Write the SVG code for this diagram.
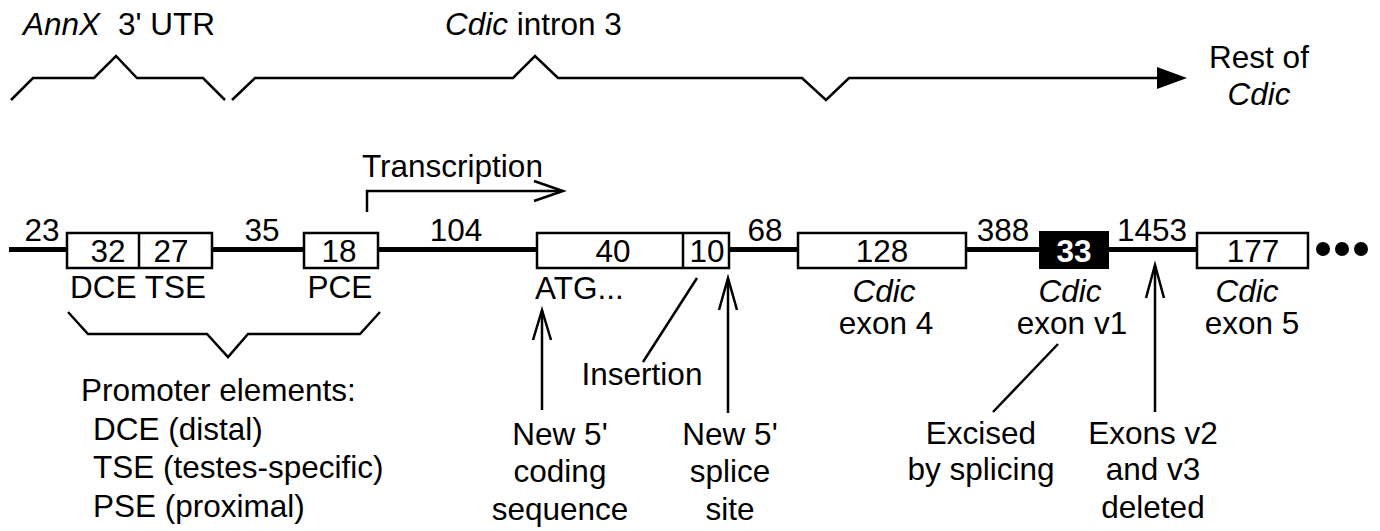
<svg xmlns="http://www.w3.org/2000/svg" width="1380" height="531" viewBox="0 0 1380 531">
<defs>
<style>
text{font-family:"Liberation Sans",Arial,sans-serif;font-size:31.5px;fill:#000}
.c{text-anchor:middle}
.i{font-style:italic}
.ln{fill:none;stroke:#000;stroke-width:2.5;stroke-linejoin:miter;stroke-linecap:butt}
.box{fill:#fff;stroke:#000;stroke-width:2.5}
.main{stroke:#000;stroke-width:5;fill:none}
</style>
</defs>
<rect width="1380" height="531" fill="#fff"/>
<g id="top-labels">
<text x="23" y="35" class="i">AnnX</text>
<text x="118" y="35">3' UTR</text>
<text x="445" y="35"><tspan class="i">Cdic</tspan> intron 3</text>
<text x="1259" y="68" class="c">Rest of</text>
<text x="1259" y="105" class="c i">Cdic</text>
</g>
<g id="connectors">
<polyline class="ln" points="11,100 33,78 94,78 116,56 137,78 203,78 225,100"/>
<polyline class="ln" points="232,100 255,78 513,78 535,56 558,78 802,78 826,100 849,78 1160,78"/>
<polygon points="1157,67 1187,78 1157,89" fill="#000"/>
<line class="main" x1="9" y1="249.5" x2="1197" y2="249.5"/>
<polyline class="ln" points="367,212 367,191 561,191"/>
<polyline class="ln" points="534,181 563,191 534,201"/>
<polyline class="ln" points="68,312 88,334 207,334 228,357 248,334 360,334 380,312"/>
<line class="ln" x1="542" y1="410" x2="542" y2="311"/>
<polyline class="ln" points="533,340 542,310 551,340"/>
<line class="ln" x1="728" y1="413" x2="728" y2="279"/>
<polyline class="ln" points="719,310 728,278 737,310"/>
<line class="ln" x1="1155" y1="412" x2="1155" y2="266"/>
<polyline class="ln" points="1146,298 1155,265 1164,298"/>
<line class="ln" x1="697" y1="278" x2="643" y2="362"/>
<line class="ln" x1="1058" y1="344" x2="993" y2="412"/>
</g>
<g id="transcription-label">
<text x="362" y="177">Transcription</text>
</g>
<g id="spacer-labels">
<text x="42" y="241" class="c">23</text>
<text x="262" y="241" class="c">35</text>
<text x="456" y="241" class="c">104</text>
<text x="765" y="241" class="c">68</text>
<text x="1003" y="241" class="c">388</text>
<text x="1152" y="241" class="c">1453</text>
</g>
<g id="node-dce-tse">
<rect class="box" x="67" y="233" width="145" height="35"/>
<line class="ln" x1="139" y1="233" x2="139" y2="268"/>
<text x="108" y="262" class="c">32</text>
<text x="171" y="262" class="c">27</text>
<text x="70" y="298">DCE TSE</text>
</g>
<g id="node-pce">
<rect class="box" x="304" y="233" width="74" height="35"/>
<text x="339" y="262" class="c">18</text>
<text x="340" y="298" class="c">PCE</text>
</g>
<g id="node-exon-new">
<rect class="box" x="537" y="233" width="192" height="35"/>
<line class="ln" x1="683" y1="233" x2="683" y2="268"/>
<text x="613" y="262" class="c">40</text>
<text x="707" y="262" class="c">10</text>
<text x="535" y="299">ATG...</text>
</g>
<g id="node-exon4">
<rect class="box" x="798" y="233" width="168" height="35"/>
<text x="882" y="262" class="c">128</text>
<text x="884" y="302" class="c i">Cdic</text>
<text x="886" y="334" class="c">exon 4</text>
</g>
<g id="node-exonv1">
<rect x="1040" y="232" width="68" height="36" fill="#000" stroke="#000" stroke-width="2"/>
<text x="1074" y="262" class="c" font-weight="bold" style="fill:#fff">33</text>
<text x="1070" y="302" class="c i">Cdic</text>
<text x="1072" y="334" class="c">exon v1</text>
</g>
<g id="node-exon5">
<rect class="box" x="1197" y="233" width="111" height="35"/>
<text x="1253" y="262" class="c">177</text>
<text x="1247" y="302" class="c i">Cdic</text>
<text x="1252" y="334" class="c">exon 5</text>
<circle cx="1323" cy="249" r="7"/>
<circle cx="1342" cy="249" r="7"/>
<circle cx="1361" cy="249" r="7"/>
</g>
<g id="promoter-legend">
<text x="81" y="401">Promoter elements:</text>
<text x="93" y="440">DCE (distal)</text>
<text x="93" y="478">TSE (testes-specific)</text>
<text x="93" y="517">PSE (proximal)</text>
</g>
<g id="annotations">
<text x="642" y="385" class="c">Insertion</text>
<text x="560" y="445" class="c">New 5'</text>
<text x="560" y="482" class="c">coding</text>
<text x="560" y="520" class="c">sequence</text>
<text x="730" y="445" class="c">New 5'</text>
<text x="730" y="482" class="c">splice</text>
<text x="730" y="520" class="c">site</text>
<text x="981" y="444" class="c">Excised</text>
<text x="981" y="480" class="c">by splicing</text>
<text x="1153" y="444" class="c">Exons v2</text>
<text x="1153" y="480" class="c">and v3</text>
<text x="1153" y="518" class="c">deleted</text>
</g>
</svg>
